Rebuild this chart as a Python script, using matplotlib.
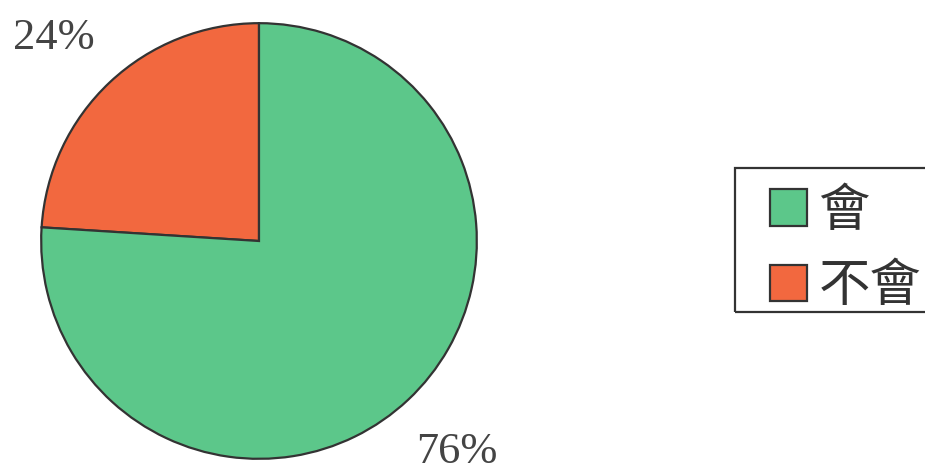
import matplotlib
matplotlib.use("Agg")
import matplotlib.pyplot as plt
from matplotlib.patches import Rectangle

# Slice data
labels = ["不會", "會"]
shares = [24, 76]
colors = ["#f2683f", "#5cc78a"]
pct_text = ["24%", "76%"]

W, H = 925, 472
fig = plt.figure(figsize=(W / 100, H / 100), dpi=100)

# pie centre at (259, 241) px, radius 220 px
cx, cy, r = 259, 241, 220
ax = fig.add_axes([(cx - r) / W, (H - cy - r) / H, 2 * r / W, 2 * r / H])
wedges, _ = ax.pie(shares, colors=colors, startangle=90, counterclock=True,
                   radius=1, wedgeprops=dict(edgecolor="#333333", linewidth=1.6))
ax.set_xlim(-1.01, 1.01)
ax.set_ylim(-1.01, 1.01)
ax.set_aspect("equal")
ax.axis("off")

# percentage labels
fig.text(13 / W, 1 - 38 / H, pct_text[0], fontsize=32, family="Liberation Serif",
         color="#444444", va="center", ha="left")
fig.text(416 / W, 1 - 452 / H, pct_text[1], fontsize=32, family="Liberation Serif",
         color="#444444", va="center", ha="left")

# legend box (runs off the right edge like the scan)
fig.patches.append(Rectangle((735 / W, 1 - 312 / H), 200 / W, 144 / H,
                             transform=fig.transFigure, fill=False,
                             edgecolor="#333333", linewidth=1.6))

# legend: 會 first, then 不會
leg = fig.legend([wedges[1], wedges[0]], [labels[1], labels[0]],
                 loc="upper left", bbox_to_anchor=(770 / W, 1 - 184 / H),
                 borderaxespad=0, frameon=False,
                 handlelength=0.72, handleheight=0.72, handletextpad=0.22,
                 borderpad=0, labelspacing=0.43,
                 prop={"family": ["Noto Sans CJK TC", "DejaVu Sans"], "size": 37})
for t in leg.get_texts():
    t.set_color("#333333")

fig.savefig("out.png", dpi=100)
